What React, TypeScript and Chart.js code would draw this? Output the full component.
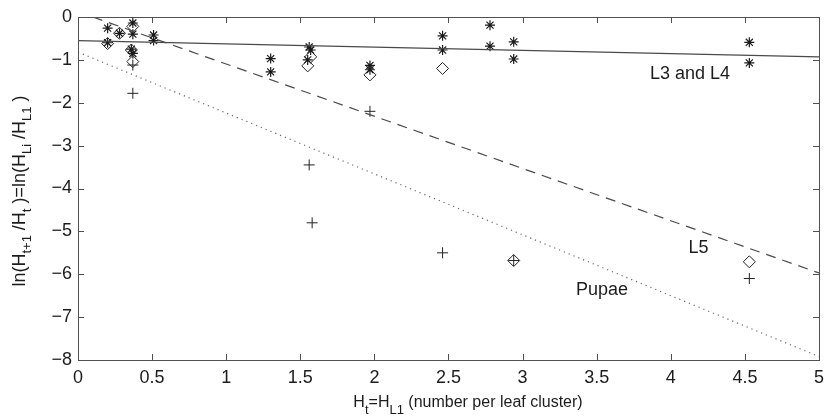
import React, { useEffect, useRef } from 'react';
import { Chart, registerables } from 'chart.js';
Chart.register(...registerables);

// ---- data ----
const l34Points: [number, number][] = [
  [0.2, -0.26], [0.2, -0.6], [0.28, -0.38], [0.37, -0.14], [0.37, -0.4],
  [0.36, -0.75], [0.37, -0.85], [0.51, -0.42], [0.51, -0.55], [1.3, -0.97],
  [1.3, -1.28], [1.56, -0.7], [1.57, -0.77], [1.55, -1.0], [1.97, -1.13],
  [1.97, -1.23], [2.46, -0.44], [2.46, -0.77], [2.78, -0.19], [2.78, -0.68],
  [2.94, -0.58], [2.94, -0.98], [4.53, -0.59], [4.53, -1.07],
];
const l5Points: [number, number][] = [
  [0.2, -0.62], [0.28, -0.38], [0.37, -0.22], [0.36, -0.77], [0.37, -1.04],
  [1.57, -0.93], [1.55, -1.14], [1.97, -1.35], [2.46, -1.2], [2.94, -5.68],
  [4.53, -5.71],
];
const pupaePoints: [number, number][] = [
  [0.37, -1.12], [0.37, -1.78], [1.56, -3.45], [1.58, -4.8], [1.97, -2.2],
  [2.46, -5.5], [2.94, -5.68], [4.53, -6.1],
];
const l34Fit: [number, number][] = [[0, -0.55], [5, -0.93]];
const l5Fit: [number, number][] = [[0.1, 0], [5, -5.97]];
const pupaeFit: [number, number][] = [[0, -0.82], [5, -7.92]];

const xTicks = [0, 0.5, 1, 1.5, 2, 2.5, 3, 3.5, 4, 4.5, 5];
const yTicks = [0, -1, -2, -3, -4, -5, -6, -7, -8];

const labelTexts = ['L3 and L4', 'L5', 'Pupae'];
const labelAnchors: [number, number][] = [[3.86, -1.33], [4.12, -5.38], [3.36, -6.36]];

type Seg = { t: string; sub?: boolean };
const xTitle: Seg[] = [
  { t: 'H' }, { t: 't', sub: true }, { t: '=H' }, { t: 'L1', sub: true },
  { t: ' (number per leaf cluster)' },
];
const yTitle: Seg[] = [
  { t: 'ln(H' }, { t: 't+1', sub: true }, { t: ' /H' }, { t: 't', sub: true },
  { t: ' )=ln(H' }, { t: 'Li', sub: true }, { t: ' /H' }, { t: 'L1', sub: true },
  { t: ' )' },
];

const FONT = '"Liberation Sans", Arial, Helvetica, sans-serif';
const INK = '#1c1c1c';
const AXIS = '#505050';

const toXY = (a: [number, number][]) => a.map(([x, y]) => ({ x, y }));

function drawRich(ctx: CanvasRenderingContext2D, segs: Seg[], cx: number, cy: number,
  mainSize: number, subSize: number, subDrop: number) {
  const main = `${mainSize}px ${FONT}`;
  const small = `${subSize}px ${FONT}`;
  let total = 0;
  const widths = segs.map((s) => {
    ctx.font = s.sub ? small : main;
    const w = ctx.measureText(s.t).width;
    total += w;
    return w;
  });
  let x = cx - total / 2;
  ctx.textBaseline = 'middle';
  ctx.textAlign = 'left';
  segs.forEach((s, i) => {
    ctx.font = s.sub ? small : main;
    ctx.fillText(s.t, x, s.sub ? cy + subDrop : cy);
    x += widths[i];
  });
}

const framePlugin = {
  id: 'frame',
  afterDraw(chart: any) {
    const { ctx, chartArea: a, scales } = chart;
    const xs = scales.x;
    const ys = scales.y;
    ctx.save();
    ctx.strokeStyle = AXIS;
    ctx.lineWidth = 1;
    ctx.strokeRect(Math.round(a.left) + 0.5, Math.round(a.top) + 0.5,
      Math.round(a.right - a.left), Math.round(a.bottom - a.top));
    const L = 6;
    ctx.beginPath();
    xTicks.forEach((v) => {
      const px = Math.round(xs.getPixelForValue(v)) + 0.5;
      ctx.moveTo(px, a.bottom); ctx.lineTo(px, a.bottom - L);
      ctx.moveTo(px, a.top); ctx.lineTo(px, a.top + L);
    });
    yTicks.forEach((v) => {
      const py = Math.round(ys.getPixelForValue(v)) + 0.5;
      ctx.moveTo(a.left, py); ctx.lineTo(a.left + L, py);
      ctx.moveTo(a.right, py); ctx.lineTo(a.right - L, py);
    });
    ctx.stroke();

    // annotations
    ctx.fillStyle = INK;
    ctx.font = `18px ${FONT}`;
    ctx.textAlign = 'left';
    ctx.textBaseline = 'middle';
    labelTexts.forEach((t, i) => {
      const [x, y] = labelAnchors[i];
      ctx.fillText(t, xs.getPixelForValue(x), ys.getPixelForValue(y));
    });

    // axis titles
    drawRich(ctx, xTitle, 468, 403, 16, 13, 7);
    ctx.translate(20, 191);
    ctx.rotate(-Math.PI / 2);
    drawRich(ctx, yTitle, 0, 0, 18, 13, 7);
    ctx.restore();
  },
};

const fmt = (v: number) => {
  const s = String(Math.round(v * 10) / 10);
  return s.replace('-', '\u2212');
};

export default function App() {
  const ref = useRef<HTMLCanvasElement | null>(null);
  useEffect(() => {
    if (!ref.current) return;
    const chart = new Chart(ref.current, {
      type: 'scatter',
      data: {
        datasets: [
          {
            label: 'L3 and L4 fit', data: toXY(l34Fit), showLine: true,
            borderColor: '#4a4a4a', borderWidth: 1.2, pointRadius: 0,
          },
          {
            label: 'L5 fit', data: toXY(l5Fit), showLine: true,
            borderColor: '#4a4a4a', borderWidth: 1.2, borderDash: [10, 7], pointRadius: 0,
          },
          {
            label: 'Pupae fit', data: toXY(pupaeFit), showLine: true,
            borderColor: '#6a6a6a', borderWidth: 1.2, borderDash: [1.2, 4], pointRadius: 0,
          },
          {
            label: 'L3 and L4', data: toXY(l34Points), pointStyle: 'star',
            pointRadius: 5, borderColor: '#1a1a1a', borderWidth: 1.2, backgroundColor: '#1a1a1a',
          },
          {
            label: 'L5', data: toXY(l5Points), pointStyle: 'rectRot',
            pointRadius: 6, borderColor: '#222', borderWidth: 1, backgroundColor: 'rgba(0,0,0,0)',
          },
          {
            label: 'Pupae', data: toXY(pupaePoints), pointStyle: 'cross',
            pointRadius: 5.5, borderColor: '#222', borderWidth: 1, backgroundColor: '#222',
          },
        ],
      },
      options: {
        responsive: false,
        animation: false,
        layout: { padding: { top: 17, right: 8, left: 0, bottom: 0 } },
        plugins: { legend: { display: false }, tooltip: { enabled: false } },
        scales: {
          x: {
            type: 'linear', min: 0, max: 5,
            afterBuildTicks: (s: any) => { s.ticks = xTicks.map((v) => ({ value: v })); },
            afterFit: (s: any) => { s.height = 60; },
            grid: { display: false, drawTicks: false },
            border: { display: false },
            ticks: {
              color: INK, font: { family: FONT, size: 18 }, padding: 7,
              maxRotation: 0, autoSkip: false,
              callback: (v: any) => fmt(Number(v)),
            },
          },
          y: {
            type: 'linear', min: -8, max: 0,
            afterBuildTicks: (s: any) => { s.ticks = yTicks.map((v) => ({ value: v })); },
            afterFit: (s: any) => { s.width = 78; },
            grid: { display: false, drawTicks: false },
            border: { display: false },
            ticks: {
              color: INK, font: { family: FONT, size: 18 }, padding: 6,
              autoSkip: false,
              callback: (v: any) => fmt(Number(v)),
            },
          },
        },
      },
      plugins: [framePlugin],
    } as any);
    return () => chart.destroy();
  }, []);
  return (
    <div style={{ position: 'absolute', left: 0, top: 0, width: 831, height: 420, background: '#fff' }}>
      <canvas ref={ref} width={831} height={420} style={{ width: 831, height: 420 }} />
    </div>
  );
}
